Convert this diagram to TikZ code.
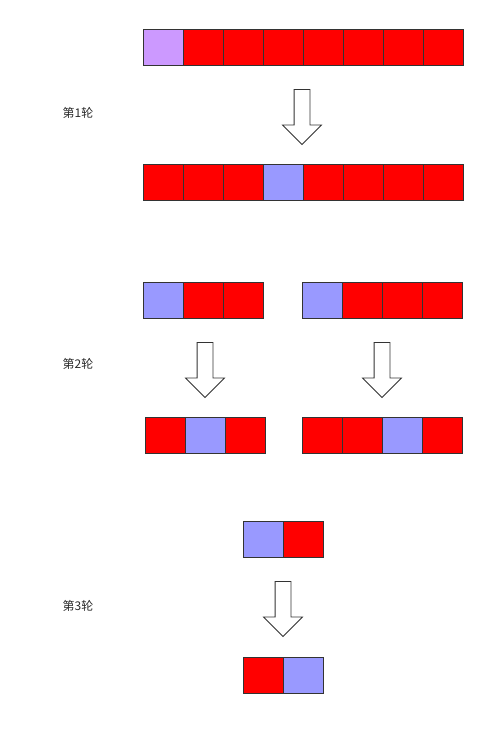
\documentclass[tikz,border=0pt]{standalone}
\usepackage{fontspec}
\newfontfamily\cjk{Noto Sans CJK SC}
\usetikzlibrary{positioning, shapes.arrows}

\definecolor{cellred}{HTML}{FF0000}
\definecolor{cellblue}{HTML}{9999FF}
\definecolor{celllilac}{HTML}{CC99FF}
\definecolor{edgegray}{HTML}{333333}
\definecolor{labelgray}{HTML}{2A2A2A}

\begin{document}
\begin{tikzpicture}[
    x=1pt, y=-1pt,
    cell/.style={
        rectangle,
        draw=edgegray,
        line width=0.9pt,
        minimum width=40pt,
        minimum height=36pt,
        inner sep=0pt,
        outer sep=0pt
    },
    down/.style={
        single arrow,
        draw=edgegray,
        fill=white,
        line width=0.8pt,
        rotate=-90,
        minimum height=55pt,
        inner xsep=0pt,
        inner ysep=7.5pt,
        single arrow head extend=11.5pt,
        single arrow tip angle=90,
        shape border uses incircle=false
    },
    round/.style={
        font=\cjk\fontsize{12}{14}\selectfont,
        text=labelgray
    }
]
\useasboundingbox (0,0) rectangle (500,731);

% Erste Reihe und Ergebnis nach Runde 1
\foreach \c [count=\i] in {celllilac,cellred,cellred,cellred,cellred,cellred,cellred,cellred}
    \node[cell, fill=\c] (ra\i) at ({123+40*\i},47) {};
\foreach \c [count=\i] in {cellred,cellred,cellred,cellblue,cellred,cellred,cellred,cellred}
    \node[cell, fill=\c] (rb\i) at ({123+40*\i},182) {};

% Runde 2: linke und rechte Teilliste
\foreach \c [count=\i] in {cellblue,cellred,cellred}
    \node[cell, fill=\c] (lc\i) at ({123+40*\i},300) {};
\foreach \c [count=\i] in {cellblue,cellred,cellred,cellred}
    \node[cell, fill=\c] (rc\i) at ({282+40*\i},300) {};
\foreach \c [count=\i] in {cellred,cellblue,cellred}
    \node[cell, fill=\c] (ld\i) at ({125+40*\i},435) {};
\foreach \c [count=\i] in {cellred,cellred,cellblue,cellred}
    \node[cell, fill=\c] (rd\i) at ({282+40*\i},435) {};

% Runde 3
\foreach \c [count=\i] in {cellblue,cellred}
    \node[cell, fill=\c] (re\i) at ({223+40*\i},539) {};
\foreach \c [count=\i] in {cellred,cellblue}
    \node[cell, fill=\c] (rf\i) at ({223+40*\i},675) {};

% Hohle Pfeile zwischen den Reihen
\node[down] (step1) at (302,113) {};
\node[down] (step2l) at (205,366) {};
\node[down] (step2r) at (382,366) {};
\node[down] (step3) at (283,605) {};

% Beschriftung der Runden
\node[round] (round1) at (78,113) {第1轮};
\node[round] (round2) at (78,364) {第2轮};
\node[round] (round3) at (78,606) {第3轮};

\end{tikzpicture}
\end{document}
